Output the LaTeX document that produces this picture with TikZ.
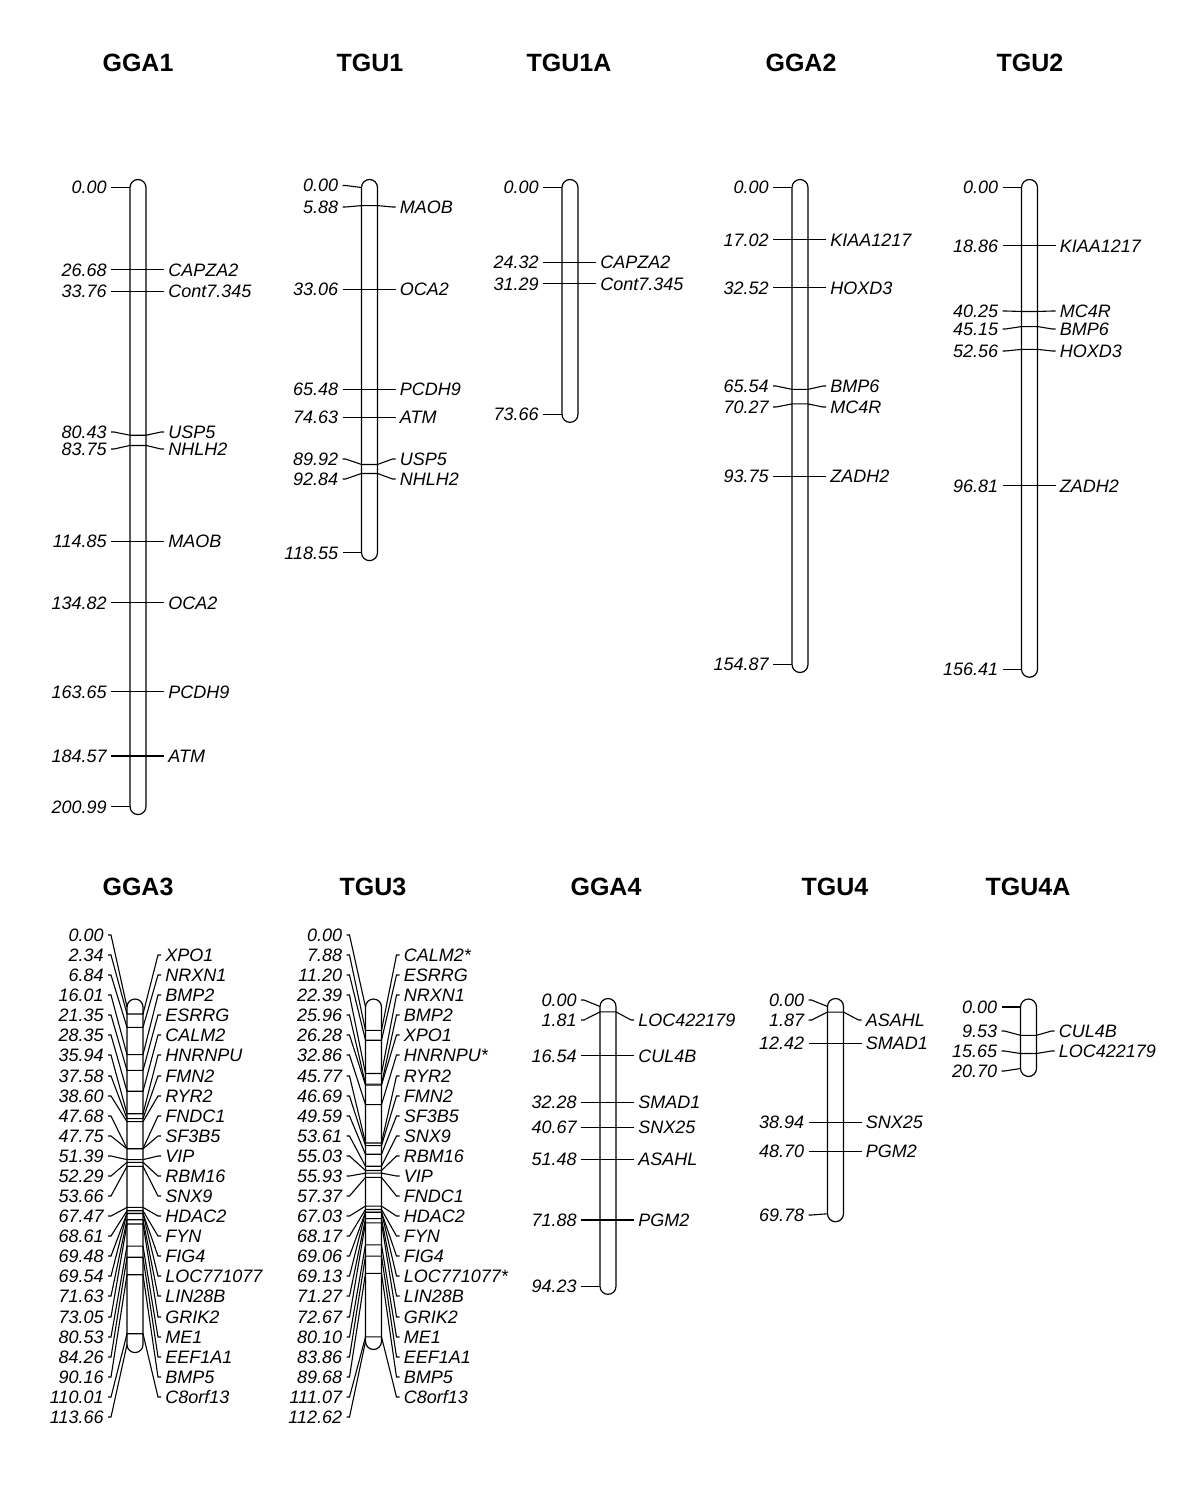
\documentclass[tikz,border=0pt]{standalone}
\usepackage{fontspec}
\setmainfont{Liberation Sans}
\usetikzlibrary{calc}
\tikzset{
  chr/.style={line width=0.6pt, rounded corners=4pt},
  lnk/.style={line width=0.55pt},
  num/.style={font=\fontsize{9}{10}\selectfont\itshape, inner sep=0pt, anchor=east, text height=6.45pt, text depth=0pt},
  gene/.style={num, anchor=west},
  ttl/.style={font=\fontsize{12.5}{14}\selectfont\bfseries, inner sep=0pt},
}
\def\nomark{-}
% #1 id, #2 centre x, #3 y of 0 cM, #4 px per cM, #5 length, #6 markers pos/labely/name
\newcommand{\chromo}[6]{%
 \pgfmathsetmacro\xl{#2-8}\pgfmathsetmacro\xr{#2+8}%
 \pgfmathsetmacro\yb{#3+#4*#5}%
 \draw[chr] (\xl,#3-8) rectangle (\xr,\yb+8);
 \foreach \mpos/\mly/\mname [count=\i] in {#6}{
   \pgfmathsetmacro\my{#3+#4*\mpos}
   \ifdim\mly pt=0pt \edef\lyy{\my}\else\edef\lyy{\mly}\fi
   \node[num] (#1-n\i) at (\xl-23,\lyy) {\mpos};
   \ifx\mname\nomark
     \draw[lnk] (#1-n\i.east) ++(4,0) -- ++(3,0) -- (\xl,\my);
   \else
     \node[gene] (#1-g\i) at (\xr+22,\lyy) {\mname};
     \draw[lnk] (#1-n\i.east) ++(4,0) -- ++(3,0) -- (\xl,\my) -- (\xr,\my)
        -- ($(#1-g\i.west)+(-7,0)$) -- ($(#1-g\i.west)+(-4,0)$);
   \fi
 }
}
\begin{document}
\begin{tikzpicture}[x=0.5pt,y=-0.5pt]
\useasboundingbox (0,0) rectangle (1200,1493);
% titles
\node[ttl] (tGGA1) at (138,63) {GGA1};
\node[ttl] (tTGU1) at (370,63) {TGU1};
\node[ttl] (tTGU1A) at (569,63) {TGU1A};
\node[ttl] (tGGA2) at (801,63) {GGA2};
\node[ttl] (tTGU2) at (1030,63) {TGU2};
\node[ttl] (tGGA3) at (138,887) {GGA3};
\node[ttl] (tTGU3) at (373,887) {TGU3};
\node[ttl] (tGGA4) at (606,887) {GGA4};
\node[ttl] (tTGU4) at (835,887) {TGU4};
\node[ttl] (tTGU4A) at (1028,887) {TGU4A};
% top row
\chromo{gga1}{138}{187.5}{3.08}{200.99}{0.00/0/-, 26.68/0/CAPZA2, 33.76/0/Cont7.345, 80.43/432/USP5, 83.75/449/NHLH2, 114.85/0/MAOB, 134.82/0/OCA2, 163.65/0/PCDH9, 184.57/0/ATM, 200.99/0/-}
\chromo{tgu1}{369.5}{187.5}{3.08}{118.55}{0.00/185.5/-, 5.88/207/MAOB, 33.06/0/OCA2, 65.48/0/PCDH9, 74.63/0/ATM, 89.92/459/USP5, 92.84/479/NHLH2, 118.55/0/-}
\chromo{tgu1a}{570}{187.5}{3.08}{73.66}{0.00/0/-, 24.32/0/CAPZA2, 31.29/0/Cont7.345, 73.66/0/-}
\chromo{gga2}{800}{187.5}{3.08}{154.87}{0.00/0/-, 17.02/0/KIAA1217, 32.52/0/HOXD3, 65.54/386/BMP6, 70.27/407/MC4R, 93.75/0/ZADH2, 154.87/0/-}
\chromo{tgu2}{1029.5}{187.5}{3.08}{156.41}{0.00/0/-, 18.86/0/KIAA1217, 40.25/311/MC4R, 45.15/329/BMP6, 52.56/351/HOXD3, 96.81/0/ZADH2, 156.41/0/-}
% bottom row
\chromo{gga3}{135}{1007}{2.97}{113.66}{0.00/935/-, 2.34/955/XPO1, 6.84/975/NRXN1, 16.01/995/BMP2, 21.35/1015/ESRRG, 28.35/1035/CALM2, 35.94/1055/HNRNPU, 37.58/1076/FMN2, 38.60/1096/RYR2, 47.68/1116/FNDC1, 47.75/1136/SF3B5, 51.39/1156/VIP, 52.29/1176/RBM16, 53.66/1196/SNX9, 67.47/1216/HDAC2, 68.61/1236/FYN, 69.48/1256/FIG4, 69.54/1276/LOC771077, 71.63/1296/LIN28B, 73.05/1317/GRIK2, 80.53/1337/ME1, 84.26/1357/EEF1A1, 90.16/1377/BMP5, 110.01/1397/C8orf13, 113.66/1417/-}
\chromo{tgu3}{373.5}{1007}{2.97}{112.62}{0.00/935/-, 7.88/955/CALM2*, 11.20/975/ESRRG, 22.39/995/NRXN1, 25.96/1015/BMP2, 26.28/1035/XPO1, 32.86/1055/HNRNPU*, 45.77/1076/RYR2, 46.69/1096/FMN2, 49.59/1116/SF3B5, 53.61/1136/SNX9, 55.03/1156/RBM16, 55.93/1176/VIP, 57.37/1196/FNDC1, 67.03/1216/HDAC2, 68.17/1236/FYN, 69.06/1256/FIG4, 69.13/1276/LOC771077*, 71.27/1296/LIN28B, 72.67/1317/GRIK2, 80.10/1337/ME1, 83.86/1357/EEF1A1, 89.68/1377/BMP5, 111.07/1397/C8orf13, 112.62/1417/-}
\chromo{gga4}{608}{1006.5}{2.97}{94.23}{0.00/1000/-, 1.81/1020/LOC422179, 16.54/0/CUL4B, 32.28/0/SMAD1, 40.67/0/SNX25, 51.48/0/ASAHL, 71.88/0/PGM2, 94.23/0/-}
\chromo{tgu4}{835.5}{1006.5}{2.97}{69.78}{0.00/1000/-, 1.87/1020/ASAHL, 12.42/0/SMAD1, 38.94/0/SNX25, 48.70/0/PGM2, 69.78/1215/-}
\chromo{tgu4a}{1028.5}{1007}{2.97}{20.70}{0.00/1007/-, 9.53/1031/CUL4B, 15.65/1051/LOC422179, 20.70/1071/-}
\end{tikzpicture}
\end{document}
